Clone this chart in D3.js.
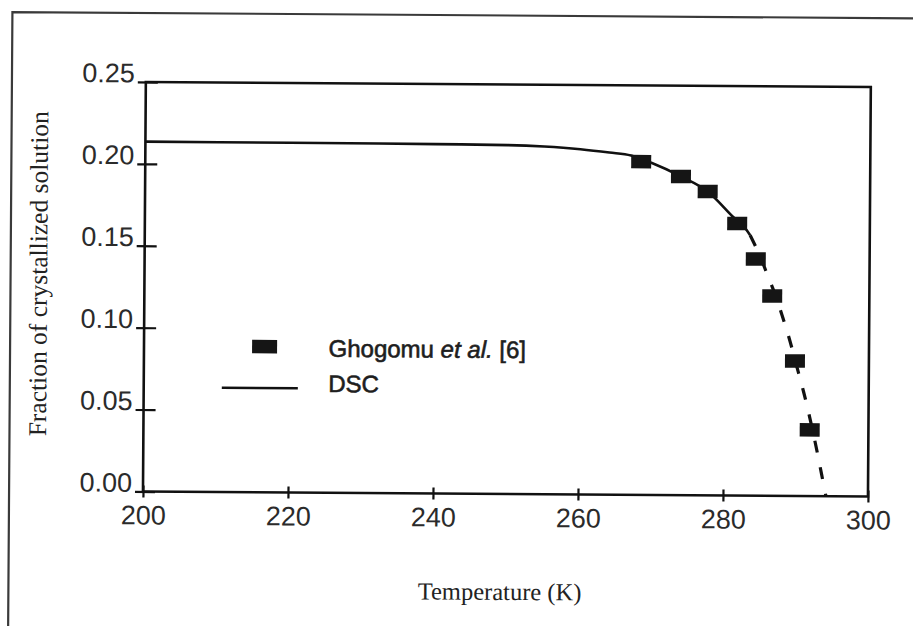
<!DOCTYPE html>
<html><head><meta charset="utf-8">
<script src="https://cdn.jsdelivr.net/npm/d3@7"></script>
<style>html,body{margin:0;padding:0;background:#fff;} svg{display:block;}</style>
</head><body>
<svg id="chart" width="913" height="626"></svg>
<script>
// ---- data ----
const xTicks = [200, 220, 240, 260, 280, 300];
const xTickLabels = ["200", "220", "240", "260", "280", "300"];
const yTicks = [0, 0.05, 0.10, 0.15, 0.20, 0.25];
const yTickLabels = ["0.00", "0.05", "0.10", "0.15", "0.20", "0.25"];

// Ghogomu et al. [6] measured points
const ghogomuT = [268.4, 273.9, 277.6, 281.7, 284.3, 286.6, 289.8, 291.9];
const ghogomuF = [0.2035, 0.1946, 0.1855, 0.1661, 0.1445, 0.1220, 0.0824, 0.0404];

// DSC curve (solid part)
const dscSolidT = [200, 220, 240, 250, 255, 260, 264, 267, 269.8, 273.9, 277.6, 281.1, 283.0, 283.5];
const dscSolidF = [0.2136, 0.2135, 0.2133, 0.2130, 0.2123, 0.2108, 0.2089, 0.2072, 0.2028, 0.1946, 0.1855, 0.1702, 0.1622, 0.1590];
// DSC curve (dashed continuation)
const dscDashT = [283.5, 285, 286, 287, 288, 289, 290, 291, 292, 293, 293.6, 294.2];
const dscDashF = [0.1590, 0.145, 0.134, 0.123, 0.110, 0.096, 0.080, 0.064, 0.046, 0.026, 0.013, 0.0];

const legendNames = ["Ghogomu", "DSC"];
const xTitle = "Temperature (K)";
const yTitle = "Fraction of crystallized solution";

// ---- layout ----
const svg = d3.select("#chart");
const root = svg.append("g").attr("transform", "rotate(0.4,507,289)");

const x = d3.scaleLinear().domain([200, 300]).range([144.4, 869.4]);
const y = d3.scaleLinear().domain([0, 0.25]).range([494, 84.5]);

// outer frame (top + left visible)
root.append("path")
  .attr("d", "M10.5,720 L10.5,15.5 L1000,15.5")
  .attr("fill", "none").attr("stroke", "#3a3a3a").attr("stroke-width", 2.2);

// plot box
root.append("rect")
  .attr("x", x(200)).attr("y", y(0.25))
  .attr("width", x(300) - x(200)).attr("height", y(0) - y(0.25))
  .attr("fill", "none").attr("stroke", "#111").attr("stroke-width", 2.6);

const tickFont = "'Liberation Sans', Arial, Helvetica, sans-serif";

// y axis
const yAxis = d3.axisLeft(y).tickValues(yTicks)
  .tickFormat((d, i) => yTickLabels[i]).tickSize(8).tickPadding(4);
const gy = root.append("g").attr("transform", `translate(${x(200)},0)`).call(yAxis);
gy.select(".domain").remove();
gy.selectAll(".tick line").attr("x1", 12).attr("x2", -8)
  .attr("stroke", "#111").attr("stroke-width", 2.2);
gy.selectAll(".tick text")
  .attr("x", -11).attr("dy", "0em")
  .style("font-family", tickFont).style("font-size", "27px")
  .attr("fill", "#2b2b2b");

// x axis
const xAxis = d3.axisBottom(x).tickValues(xTicks)
  .tickFormat((d, i) => xTickLabels[i]).tickSize(6);
const gx = root.append("g").attr("transform", `translate(0,${y(0)})`).call(xAxis);
gx.select(".domain").remove();
gx.selectAll(".tick line").attr("y1", -6).attr("y2", 6)
  .attr("stroke", "#111").attr("stroke-width", 2.2);
gx.selectAll(".tick text")
  .attr("y", 33).attr("dy", "0em")
  .style("font-family", tickFont).style("font-size", "27px")
  .attr("fill", "#2b2b2b");

// DSC curve
const line = d3.line().x(d => x(d[0])).y(d => y(d[1])).curve(d3.curveMonotoneX);
const solid = dscSolidT.map((t, i) => [t, dscSolidF[i]]);
const dashed = dscDashT.map((t, i) => [t, dscDashF[i]]);
root.append("path").datum(solid).attr("d", line)
  .attr("fill", "none").attr("stroke", "#111").attr("stroke-width", 2.6);
root.append("path").datum(dashed).attr("d", line)
  .attr("fill", "none").attr("stroke", "#111").attr("stroke-width", 3.2)
  .attr("stroke-dasharray", "12,15");

// Ghogomu markers
const mw = 20, mh = 13.5;
root.selectAll("rect.pt").data(ghogomuT.map((t, i) => [t, ghogomuF[i]]))
  .enter().append("rect").attr("class", "pt")
  .attr("x", d => x(d[0]) - mw / 2).attr("y", d => y(d[1]) - mh / 2)
  .attr("width", mw).attr("height", mh).attr("fill", "#151515");

// legend
const lg = root.append("g");
lg.append("rect").attr("x", 252.5).attr("y", 341.5).attr("width", 25).attr("height", 13.5).attr("fill", "#151515");
lg.append("line").attr("x1", 222.5).attr("x2", 298.5).attr("y1", 389.7).attr("y2", 389.7)
  .attr("stroke", "#111").attr("stroke-width", 2.6);
const t1 = lg.append("text").attr("x", 329).attr("y", 358)
  .style("font-family", tickFont).style("font-size", "24px").attr("fill", "#1e1e1e")
  .attr("stroke", "#1e1e1e").attr("stroke-width", 0.6);
t1.append("tspan").text(legendNames[0] + " ");
t1.append("tspan").style("font-style", "italic").text("et al.");
t1.append("tspan").text(" [6]");
lg.append("text").attr("x", 329).attr("y", 393.3)
  .style("font-family", tickFont).style("font-size", "24px").attr("fill", "#1e1e1e")
  .attr("stroke", "#1e1e1e").attr("stroke-width", 0.6)
  .text(legendNames[1]);

// axis titles
const serif = "'Liberation Serif', 'Times New Roman', Times, serif";
root.append("text").attr("x", 501.7).attr("y", 600).attr("text-anchor", "middle")
  .style("font-family", serif).style("font-size", "24.5px").attr("fill", "#222")
  .text(xTitle);
root.append("text").attr("transform", "translate(47,277) rotate(-90)")
  .attr("text-anchor", "middle")
  .style("font-family", serif).style("font-size", "25.5px").attr("fill", "#222")
  .text(yTitle);
</script>
</body></html>
